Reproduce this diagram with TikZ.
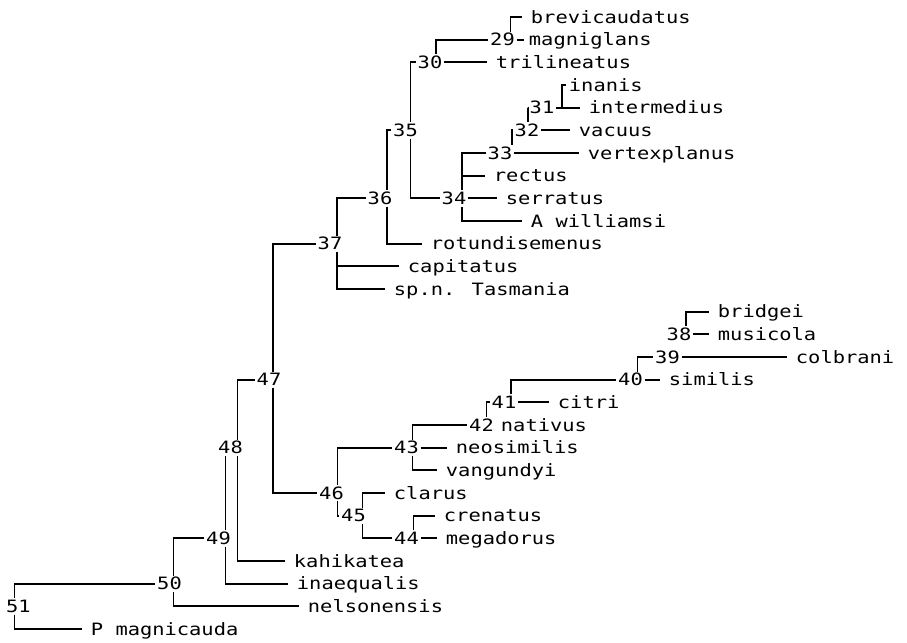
\documentclass[tikz,border=0pt]{standalone}
\usepackage{fontspec}
\newfontfamily\treefont{DejaVu Sans Mono}[FakeStretch=1.2]
\begin{document}
\begin{tikzpicture}[x=1pt,y=-22.67pt,line width=1.9pt,
  every node/.style={font=\treefont\fontsize{17}{17}\selectfont,inner xsep=1pt,inner ysep=1pt,text height=12.4pt,text depth=0pt},
  leaf/.style={anchor=west,inner xsep=8pt}]
  \useasboundingbox (0,-0.75) rectangle (907,27.57);
  \node (n29) at (502.5,1) {29};
  \node (n30) at (430,2) {30};
  \node (n31) at (542,4) {31};
  \node (n32) at (527,5) {32};
  \node (n33) at (500,6) {33};
  \node (n34) at (454,8) {34};
  \node (n35) at (405.5,5) {35};
  \node (n36) at (380,8) {36};
  \node (n37) at (330,10) {37};
  \node (n38) at (679,14) {38};
  \node (n39) at (667.5,15) {39};
  \node (n40) at (630.5,16) {40};
  \node (n41) at (504,17) {41};
  \node (n42) at (481.5,18) {42};
  \node (n43) at (406.5,19) {43};
  \node (n44) at (406.5,23) {44};
  \node (n45) at (353.5,22) {45};
  \node (n46) at (331.5,21) {46};
  \node (n47) at (269,16) {47};
  \node (n48) at (230.5,19) {48};
  \node (n49) at (218.5,23) {49};
  \node (n50) at (169.5,25) {50};
  \node (n51) at (18.5,26) {51};
  \node (brev) [leaf] at (522,0) {brevicaudatus};
  \node (magni) [leaf,inner xsep=4pt] at (524,1) {magniglans};
  \node (trili) [leaf] at (487,2) {trilineatus};
  \node (inanis) [leaf,inner xsep=2pt] at (566,3) {inanis};
  \node (inter) [leaf] at (580,4) {intermedius};
  \node (vacuus) [leaf] at (570,5) {vacuus};
  \node (vertex) [leaf] at (579,6) {vertexplanus};
  \node (rectus) [leaf] at (485,7) {rectus};
  \node (serrat) [leaf] at (497,8) {serratus};
  \node (awill) [leaf] at (522,9) {A williamsi};
  \node (rotund) [leaf] at (422,10) {rotundisemenus};
  \node (capit) [leaf] at (399,11) {capitatus};
  \node (tasman) [leaf] at (385,12) {sp.n. Tasmania};
  \node (bridgei) [leaf] at (709,13) {bridgei};
  \node (music) [leaf] at (709,14) {musicola};
  \node (colbr) [leaf] at (787,15) {colbrani};
  \node (simil) [leaf] at (660,16) {similis};
  \node (citri) [leaf] at (549,17) {citri};
  \node (nativ) [leaf] at (492,18) {nativus};
  \node (neosim) [leaf] at (447,19) {neosimilis};
  \node (vangun) [leaf] at (437,20) {vangundyi};
  \node (clarus) [leaf] at (385,21) {clarus};
  \node (crenat) [leaf] at (435,22) {crenatus};
  \node (megad) [leaf] at (437,23) {megadorus};
  \node (kahik) [leaf] at (285,24) {kahikatea};
  \node (inaeq) [leaf] at (288,25) {inaequalis};
  \node (nelson) [leaf] at (299,26) {nelsonensis};
  \node (pmagn) [leaf] at (82,27) {P magnicauda};
  \draw ([xshift=8]n29.north) |- (brev.west);
  \draw (n29) -- (magni);
  \draw ([xshift=6]n30.north) |- (n29.west);
  \draw (n30) -- (trili);
  \draw (n31) -- (inter);
  \draw ([xshift=6]n31.east) |- (inanis.west);
  \draw ([xshift=1]n32.north) |- (n31.west);
  \draw (n32) -- (vacuus);
  \draw ([xshift=12]n33.north) |- (n32.west);
  \draw (n33) -- (vertex);
  \draw ([xshift=8]n34.north) |- (n33.west);
  \draw ([xshift=8]n34.north) |- (rectus.west);
  \draw (n34) -- (serrat);
  \draw ([xshift=8]n34.south) |- (awill.west);
  \draw ([xshift=5]n35.north) |- (n30.west);
  \draw ([xshift=5]n35.south) |- (n34.west);
  \draw ([xshift=7]n36.north) |- (n35.west);
  \draw ([xshift=7]n36.south) |- (rotund.west);
  \draw ([xshift=7]n37.north) |- (n36.west);
  \draw ([xshift=7]n37.south) |- (capit.west);
  \draw ([xshift=7]n37.south) |- (tasman.west);
  \draw ([xshift=7]n38.north) |- (bridgei.west);
  \draw (n38) -- (music);
  \draw (n39) -- (colbr);
  \draw ([xshift=7]n40.north) |- (n39.west);
  \draw (n40) -- (simil);
  \draw ([xshift=7]n41.north) |- (n40.west);
  \draw (n41) -- (citri);
  \draw ([xshift=5]n42.north) |- (n41.west);
  \draw ([xshift=6]n43.north) |- (n42.west);
  \draw (n43) -- (neosim);
  \draw ([xshift=6]n43.south) |- (vangun.west);
  \draw ([xshift=7]n44.north) |- (crenat.west);
  \draw (n44) -- (megad);
  \draw ([xshift=9]n45.north) |- (clarus.west);
  \draw ([xshift=9]n45.south) |- (n44.west);
  \draw ([xshift=6]n46.north) |- (n43.west);
  \draw ([xshift=6]n46.south) |- (n45.west);
  \draw ([xshift=4]n47.north) |- (n37.west);
  \draw ([xshift=4]n47.south) |- (n46.west);
  \draw ([xshift=7]n48.north) |- (n47.west);
  \draw ([xshift=7]n48.south) |- (kahik.west);
  \draw ([xshift=7]n49.north) -- ([xshift=7]n49.north |- n48.south);
  \draw ([xshift=7]n49.south) |- (inaeq.west);
  \draw ([xshift=4]n50.north) |- (n49.west);
  \draw ([xshift=4]n50.south) |- (nelson.west);
  \draw ([xshift=-4]n51.north) |- (n50.west);
  \draw ([xshift=-4]n51.south) |- (pmagn.west);
\end{tikzpicture}
\end{document}
